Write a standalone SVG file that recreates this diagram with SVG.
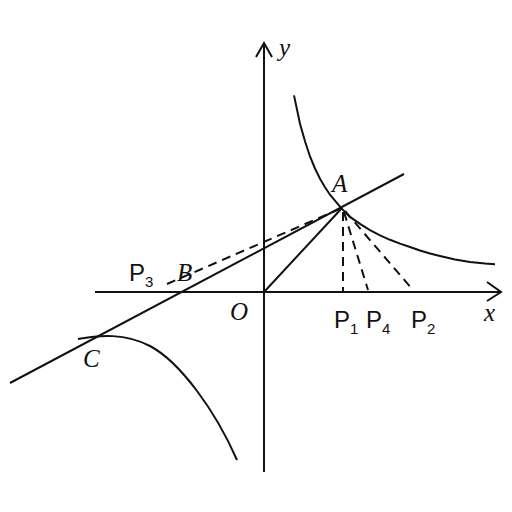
<svg xmlns="http://www.w3.org/2000/svg" width="512" height="512" viewBox="0 0 512 512">
<style>
.ln{stroke:#111;stroke-width:2;fill:none}
.ds{stroke:#111;stroke-width:2;fill:none;stroke-dasharray:9 6}
.it{font-family:"Liberation Serif",serif;font-style:italic;font-size:25px;fill:#111}
.sf{font-family:"Liberation Sans",sans-serif;font-size:24px;fill:#111}
.sb{font-size:15px}
</style>
<rect width="512" height="512" fill="#fff"/>
<g id="axes">
<line class="ln" x1="95" y1="292" x2="501" y2="292"/>
<polyline class="ln" points="487,282 501,292 487,301"/>
<line class="ln" x1="264" y1="472" x2="264" y2="43"/>
<polyline class="ln" points="256,57 264,43 272,57"/>
</g>
<g id="curves">
<path class="ln" d="M294,95.4 L300,123.8 L305,141.3 L310,156.5 L315,168.5 L320,178.7 L325,187.3 L330,194.7 L336,201.8 L342,208.9 L350,216.9 L360,223.9 L370,230.2 L380,235.4 L390,239.8 L400,243.6 L410,247 L420,250.5 L430,253.5 L440,256 L455,259.5 L470,262 L485,263.6 L495,264.2"/>
<path class="ln" d="M78,339 C100,335 125,333 150,346 C180,362 215,410 237,460"/>
</g>
<g id="connectors">
<line class="ln" x1="10" y1="383" x2="404" y2="174"/>
<line class="ln" x1="264" y1="292" x2="342" y2="208"/>
<line class="ds" x1="167" y1="284" x2="342" y2="208"/>
<line class="ds" x1="343" y1="212" x2="343" y2="292"/>
<line class="ds" x1="344" y1="212" x2="368" y2="290"/>
<line class="ds" x1="345" y1="211" x2="413" y2="290"/>
</g>
<g id="labels">
<text class="it" x="279" y="56">y</text>
<text class="it" x="484" y="321">x</text>
<text class="it" x="230" y="320">O</text>
<text class="it" x="332" y="192">A</text>
<text class="it" x="177" y="281">B</text>
<text class="it" x="83" y="367">C</text>
<text class="sf" x="129" y="281">P<tspan class="sb" dy="6">3</tspan></text>
<text class="sf" x="334" y="328">P<tspan class="sb" dy="6">1</tspan></text>
<text class="sf" x="366" y="328">P<tspan class="sb" dy="6">4</tspan></text>
<text class="sf" x="411" y="328">P<tspan class="sb" dy="6">2</tspan></text>
</g>
</svg>
